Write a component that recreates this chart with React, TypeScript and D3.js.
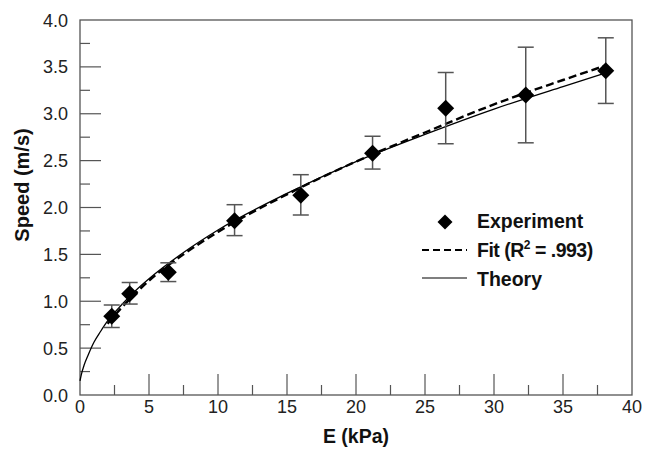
import React from "react";
import * as d3 from "d3";

const expE = [2.3, 3.6, 6.4, 11.2, 16.0, 21.2, 26.5, 32.3, 38.1];
const expSpeed = [0.84, 1.08, 1.31, 1.86, 2.13, 2.58, 3.06, 3.2, 3.46];
const expLow = [0.72, 0.97, 1.21, 1.7, 1.92, 2.41, 2.68, 2.69, 3.11];
const expHigh = [0.96, 1.2, 1.41, 2.03, 2.35, 2.76, 3.44, 3.71, 3.81];

const theoryE = [0, 0.1, 0.3, 0.6, 1, 1.5, 2, 3, 4, 5, 7.5, 10, 15, 20, 25, 30, 35, 38];
const theorySpeed = [0.15, 0.22, 0.32, 0.43, 0.56, 0.68, 0.79, 0.96, 1.11, 1.24, 1.52, 1.76, 2.15, 2.49, 2.78, 3.05, 3.29, 3.43];

const fitE = [2, 3, 4, 5, 7.5, 10, 15, 20, 25, 30, 35, 38];
const fitSpeed = [0.76, 0.93, 1.08, 1.22, 1.5, 1.74, 2.14, 2.49, 2.8, 3.1, 3.36, 3.51];

const xTicks = [0, 5, 10, 15, 20, 25, 30, 35, 40];
const yTicks = [0, 0.5, 1, 1.5, 2, 2.5, 3, 3.5, 4];

const W = 645;
const H = 449;
const L = 80, R = 632, T = 20, B = 395;

export default function App() {
  const x = d3.scaleLinear().domain([0, 40]).range([L, R]);
  const y = d3.scaleLinear().domain([0, 4]).range([B, T]);
  const line = d3
    .line<[number, number]>()
    .x((d) => x(d[0]))
    .y((d) => y(d[1]))
    .curve(d3.curveMonotoneX);
  const theory = line(theoryE.map((e, i) => [e, theorySpeed[i]]) as [number, number][]) || "";
  const fit = line(fitE.map((e, i) => [e, fitSpeed[i]]) as [number, number][]) || "";
  const minorX = d3.range(0, 41, 2.5).filter((v) => v % 5 !== 0);
  const minorY = d3.range(0, 4.01, 0.25).filter((v) => Math.abs((v * 2) % 1) > 0.01);
  const axisColor = "#555";
  const font = "'Liberation Sans', Arial, sans-serif";
  const diamond = (cx: number, cy: number, r: number) =>
    `M${cx},${cy - r}L${cx + r},${cy}L${cx},${cy + r}L${cx - r},${cy}Z`;

  return (
    <svg
      width={W}
      height={H}
      style={{ position: "absolute", left: 0, top: 0, background: "#fff" }}
      fontFamily={font}
    >
      <rect x={0} y={0} width={W} height={H} fill="#fff" />
      {/* ticks */}
      {xTicks.slice(1, -1).map((t) => (
        <line key={"xt" + t} x1={x(t)} x2={x(t)} y1={B} y2={B - 21} stroke={axisColor} strokeWidth={1.2} />
      ))}
      {minorX.map((t) => (
        <line key={"xm" + t} x1={x(t)} x2={x(t)} y1={B} y2={B - 10} stroke={axisColor} strokeWidth={1.2} />
      ))}
      {yTicks.slice(1, -1).map((t) => (
        <line key={"yt" + t} x1={L} x2={L + 21} y1={y(t)} y2={y(t)} stroke={axisColor} strokeWidth={1.2} />
      ))}
      {minorY.map((t) => (
        <line key={"ym" + t} x1={L} x2={L + 10} y1={y(t)} y2={y(t)} stroke={axisColor} strokeWidth={1.2} />
      ))}
      <rect x={L} y={T} width={R - L} height={B - T} fill="none" stroke={axisColor} strokeWidth={1.3} />
      {/* tick labels */}
      {xTicks.map((t) => (
        <text key={"xl" + t} x={x(t)} y={B + 18} textAnchor="middle" fontSize={18} fill="#222">
          {t}
        </text>
      ))}
      {yTicks.map((t) => (
        <text key={"yl" + t} x={L - 12} y={y(t) + 6.5} textAnchor="end" fontSize={18} fill="#222">
          {t.toFixed(1)}
        </text>
      ))}
      {/* axis titles */}
      <text x={356} y={443} textAnchor="middle" fontSize={19.5} fontWeight="bold" fill="#111">
        E (kPa)
      </text>
      <text
        transform={`translate(29,185) rotate(-90)`}
        textAnchor="middle"
        fontSize={20}
        fontWeight="bold"
        fill="#111"
      >
        Speed (m/s)
      </text>
      {/* curves */}
      <path d={theory} fill="none" stroke="#000" strokeWidth={1.3} />
      <path d={fit} fill="none" stroke="#000" strokeWidth={2.4} strokeDasharray="8,4" />
      {/* error bars */}
      {expE.map((e, i) => (
        <g key={"eb" + i} stroke="#555" strokeWidth={1.5}>
          <line x1={x(e)} x2={x(e)} y1={y(expLow[i])} y2={y(expHigh[i])} />
          <line x1={x(e) - 8} x2={x(e) + 8} y1={y(expLow[i])} y2={y(expLow[i])} />
          <line x1={x(e) - 8} x2={x(e) + 8} y1={y(expHigh[i])} y2={y(expHigh[i])} />
        </g>
      ))}
      {expE.map((e, i) => (
        <path key={"pt" + i} d={diamond(x(e), y(expSpeed[i]), 8.5)} fill="#000" />
      ))}
      {/* legend */}
      <path d={diamond(445, 222, 7.5)} fill="#000" />
      <text x={477} y={228} fontSize={19.5} fontWeight="bold" fill="#111">
        Experiment
      </text>
      <line x1={422} x2={467} y1={250} y2={250} stroke="#000" strokeWidth={2.2} strokeDasharray="7,4" />
      <text x={477} y={257} fontSize={19.5} fontWeight="bold" fill="#111" letterSpacing={-0.5}>
        Fit (R<tspan dy={-8} fontSize={12}>2</tspan>
        <tspan dy={8}> = .993)</tspan>
      </text>
      <line x1={422} x2={467} y1={278} y2={278} stroke="#000" strokeWidth={1.2} />
      <text x={477} y={286} fontSize={19.5} fontWeight="bold" fill="#111">
        Theory
      </text>
    </svg>
  );
}
